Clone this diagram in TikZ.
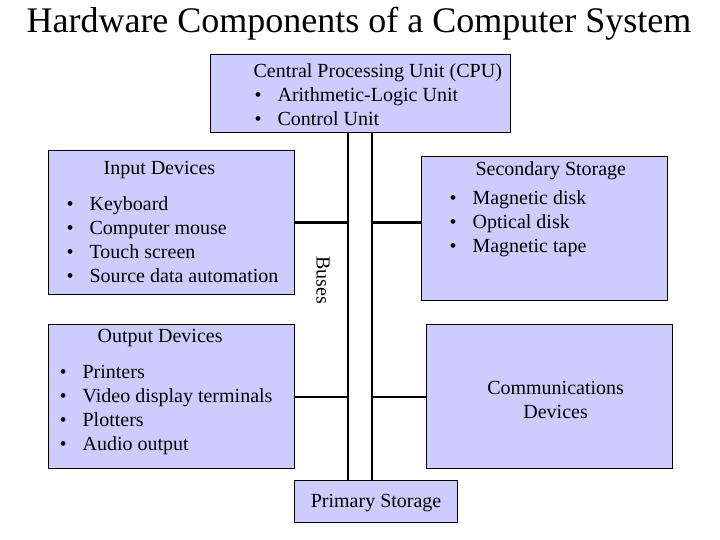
\documentclass[tikz,border=0pt]{standalone}
\usepackage{fontspec}
\setmainfont{Liberation Serif}
\definecolor{boxfill}{HTML}{CCCCFF}

% box text: width, height, lines
\newcommand{\boxbody}[3]{\parbox[c][#2][t]{#1}{\fontsize{20}{24}\selectfont\raggedright #3}}
\newcommand{\boxmid}[3]{\parbox[c][#2][t]{#1}{\fontsize{20}{24}\selectfont\centering #3}}
\newcommand{\itm}{\makebox[23pt][l]{\textbullet}}

\begin{document}
\begin{tikzpicture}[
    x=1pt, y=-1pt,
    block/.style={
        rectangle, draw, fill=boxfill, line width=1.2pt,
        anchor=north west, inner sep=0pt
    },
    bus/.style={line width=2.2pt},
    link/.style={line width=2.2pt}
]
\useasboundingbox (0,0) rectangle (720,540);

% Title
\node[anchor=base, font=\fontsize{36}{40}\selectfont] (title) at (359,33)
    {Hardware Components of a Computer System};

% Boxes
\node[block] (cpu) at (210,54) {\boxbody{300pt}{78pt}{%
    \vspace*{6.2pt}\hspace*{43pt}Central Processing Unit (CPU)\strut\\
    \hspace*{44pt}\itm Arithmetic-Logic Unit\\
    \hspace*{44pt}\itm Control Unit}};

\node[block] (input) at (48,150) {\boxbody{246pt}{144pt}{%
    \vspace*{6.7pt}\hspace*{55pt}Input Devices\strut\\[12pt]
    \hspace*{18pt}\itm Keyboard\\
    \hspace*{18pt}\itm Computer mouse\\
    \hspace*{18pt}\itm Touch screen\\
    \hspace*{18pt}\itm Source data automation}};

\node[block] (secstore) at (421,156) {\boxbody{246pt}{144pt}{%
    \vspace*{1.7pt}\hspace*{54pt}Secondary Storage\strut\\[5pt]
    \hspace*{28pt}\itm Magnetic disk\\
    \hspace*{28pt}\itm Optical disk\\
    \hspace*{28pt}\itm Magnetic tape}};

\node[block] (output) at (48,324) {\boxbody{246pt}{144pt}{%
    \vspace*{1.2pt}\hspace*{49pt}Output Devices\strut\\[12pt]
    \hspace*{11pt}\itm Printers\\
    \hspace*{11pt}\itm Video display terminals\\
    \hspace*{11pt}\itm Plotters\\
    \hspace*{11pt}\itm Audio output}};

\node[block] (comm) at (426,324) {\boxmid{246pt}{144pt}{%
    \vspace*{53.2pt}\hspace*{12pt}Communications\strut\\
    \hspace*{12pt}Devices}};
\node[block] (primary) at (294,480) {\boxmid{163pt}{42pt}{%
    \vspace*{10.2pt}Primary Storage\strut}};

% Buses
\coordinate (busl) at (348,0);
\coordinate (busr) at (372,0);
\draw[bus] (cpu.south -| busl) -- (primary.north -| busl);
\draw[bus] (cpu.south -| busr) -- (primary.north -| busr);
\node[rotate=-90, font=\fontsize{20}{24}\selectfont] (buses) at (323,280) {Buses};

% Links to the buses
\draw[link] (input.east) -- (input.east -| busl);
\draw[link] (busr |- input.east) -- (secstore.west |- input.east);
\draw[link] (output.east) -- (output.east -| busl);
\draw[link] (busr |- comm.west) -- (comm.west);

\end{tikzpicture}
\end{document}
